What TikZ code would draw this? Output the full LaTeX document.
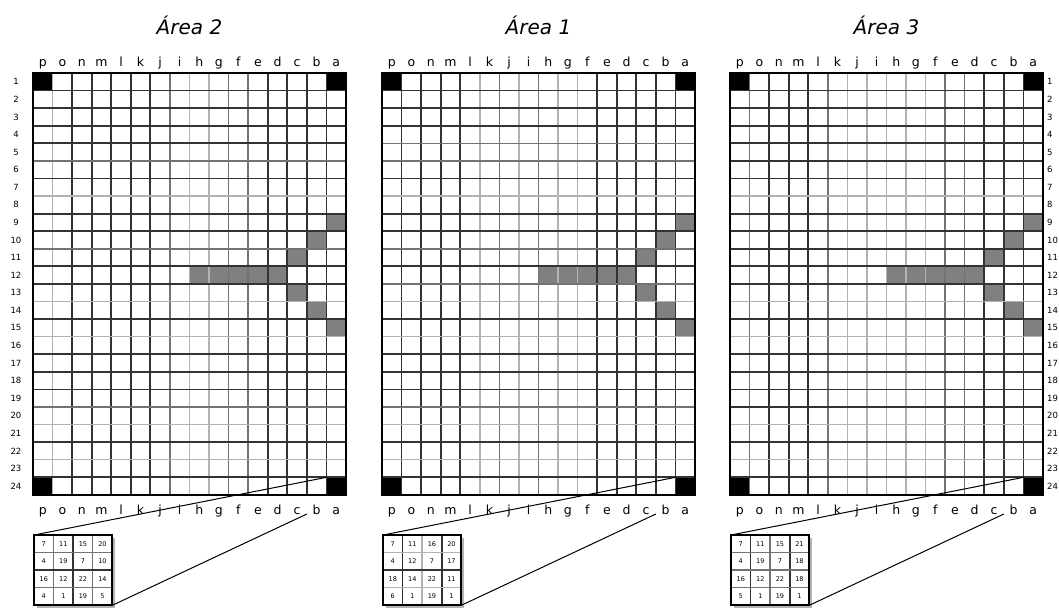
\documentclass[tikz,border=0pt]{standalone}
\usepackage{fontspec}
\setmainfont{DejaVu Sans}
\usetikzlibrary{positioning, calc}
\def\cw{19.56}
\def\rh{17.58}
\def\gtop{73}
\tikzset{
  gridLine0/.style={draw=black!30, line width=1.4pt},
  gridLine1/.style={draw=black!55, line width=1.4pt},
  gridLine2/.style={draw=black!80, line width=1.8pt},
  gridBorder/.style={draw=black, line width=1.8pt},
  shadedCell/.style={fill=black!50},
  cornerCell/.style={fill=black},
  insetShadow/.style={fill=black!30},
  areaTitle/.style={font=\fontsize{20}{20}\selectfont\itshape, anchor=base, inner sep=0pt},
  colLabel/.style={font=\fontsize{12.5}{13}\selectfont, anchor=base, inner sep=0pt},
  rowLabel/.style={font=\fontsize{8.5}{10}\selectfont, inner sep=0pt},
  insetNum/.style={font=\fontsize{6.5}{7}\selectfont, inner sep=0pt},
  zoomLine/.style={draw=black, line width=1pt}
}
% #1 left x, #2 id, #3 title, #4/#5 line weights, #6 inset numbers, #7/#8 inset line weights
\newcommand{\drawArea}[8]{%
  \foreach \cx/\ry in {15/8, 14/9, 13/10, 8/11, 9/11, 10/11, 11/11, 12/11, 13/12, 14/13, 15/14}
    \fill[shadedCell] ({#1+\cx*\cw},{\gtop+\ry*\rh}) rectangle ++(\cw,\rh);
  \foreach \cx/\ry in {0/0, 15/0, 0/23, 15/23}
    \fill[cornerCell] ({#1+\cx*\cw},{\gtop+\ry*\rh}) rectangle ++(\cw,\rh);
  \foreach \w [count=\i] in {#4}
    \draw[gridLine\w] ({#1+\i*\cw},\gtop) -- ++(0,{24*\rh});
  \foreach \w [count=\i] in {#5}
    \draw[gridLine\w] (#1,{\gtop+\i*\rh}) -- ++({16*\cw},0);
  \draw[gridBorder] (#1,\gtop) rectangle ++({16*\cw},{24*\rh});
  \node[areaTitle] (title#2) at ({#1+8*\cw},34) {#3};
  \foreach \c [count=\i from 0] in {p,o,n,m,l,k,j,i,h,g,f,e,d,c,b,a} {
    \node[colLabel] (top#2\c) at ({#1+(\i+0.5)*\cw},66) {\c};
    \node[colLabel] (bot#2\c) at ({#1+(\i+0.5)*\cw},514) {\c};
  }
  % inset block
  \fill[insetShadow] (#1+4,538) rectangle ++({4*\cw},{4*\rh});
  \fill[white] (#1+1,535) rectangle ++({4*\cw},{4*\rh});
  \foreach \w [count=\i] in {#7}
    \draw[gridLine\w] ({#1+1+\i*\cw},535) -- ++(0,{4*\rh});
  \foreach \w [count=\i] in {#8}
    \draw[gridLine\w] (#1+1,{535+\i*\rh}) -- ++({4*\cw},0);
  \draw[gridBorder] (#1+1,535) rectangle ++({4*\cw},{4*\rh});
  \foreach \n [count=\k from 0] in {#6} {
    \pgfmathtruncatemacro\ic{mod(\k,4)}
    \pgfmathtruncatemacro\ir{div(\k,4)}
    \node[insetNum] (num#2-\k) at ({#1+1+(\ic+0.5)*\cw},{535+(\ir+0.5)*\rh}) {\n};
  }
  \coordinate (inTL#2) at (#1+1,535);
  \coordinate (inBR#2) at ({#1+1+4*\cw},{535+4*\rh});
  \coordinate (zoomA#2) at ({#1+15*\cw},{\gtop+23*\rh});
  \coordinate (zoomB#2) at ({#1+14*\cw},514);
  \draw[zoomLine] (inTL#2) -- (zoomA#2);
  \draw[zoomLine] (inBR#2) -- (zoomB#2);
}
\begin{document}
\begin{tikzpicture}[x=1pt, y=-1pt]
  \useasboundingbox (0,0) rectangle (1059,611);
  \fill[white] (0,0) rectangle (1059,611);

  \drawArea{33}{2}{Área 2}
    {0,2,2,2,2,2,1,0,0,1,1,2,2,2,2}
    {2,2,2,2,1,2,0,2,2,1,2,2,0,2,0,2,2,2,1,0,2,0,2}
    {7,11,15,20,4,19,7,10,16,12,22,14,4,1,19,5}
    {1,2,1}{1,2,1}
  \drawArea{382}{1}{Área 1}
    {2,2,2,2,0,1,0,1,0,0,2,2,2,2,2}
    {2,2,2,1,1,2,0,2,2,1,2,1,0,2,0,2,2,2,1,0,2,0,2}
    {7,11,16,20,4,12,7,17,18,14,22,11,6,1,19,1}
    {2,0,2}{0,2,0}
  \drawArea{730}{3}{Área 3}
    {1,2,2,2,1,0,0,0,0,0,1,1,2,2,2}
    {2,2,2,2,2,2,0,2,2,2,2,2,0,2,0,2,2,2,2,0,2,0,2}
    {7,11,15,21,4,19,7,18,16,12,22,18,5,1,19,1}
    {2,1,2}{1,1,1}

  % row numbers
  \foreach \r in {1,...,24} {
    \node[rowLabel] (rowL\r) at (16,{\gtop+(\r-0.5)*\rh}) {\r};
    \node[rowLabel, anchor=west] (rowR\r) at (1047,{\gtop+(\r-0.5)*\rh}) {\r};
  }
\end{tikzpicture}
\end{document}
